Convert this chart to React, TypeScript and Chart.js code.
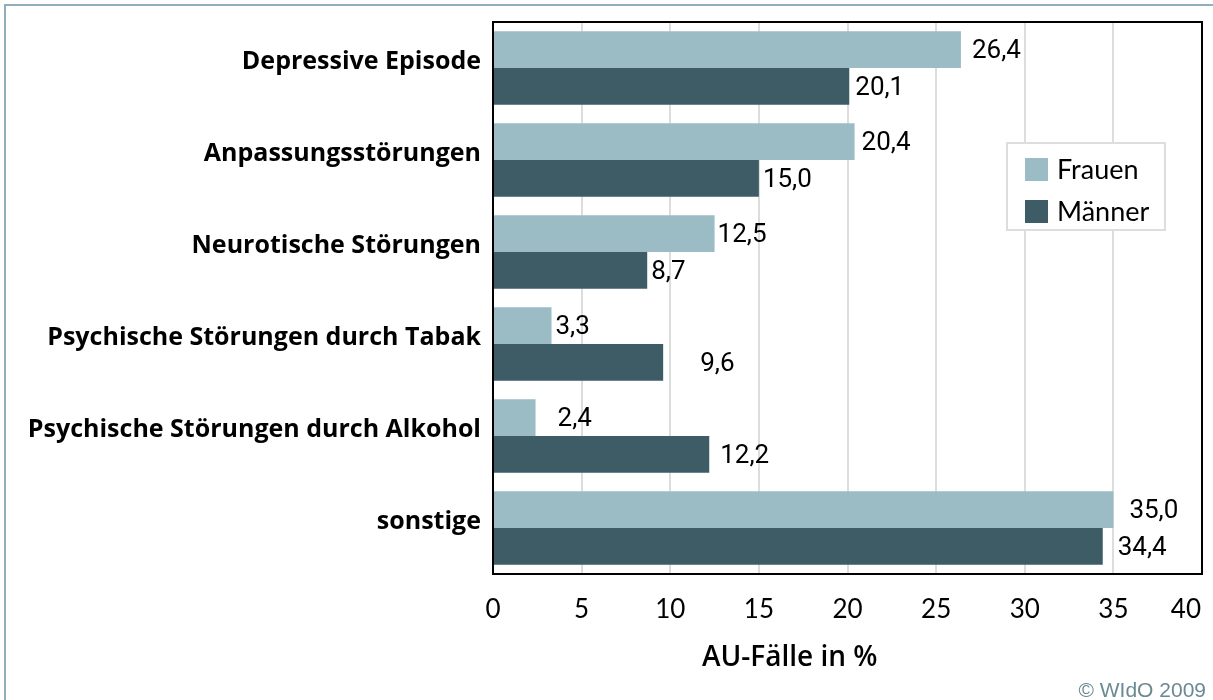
import React, { useEffect, useRef } from 'react';
import { Chart, registerables } from 'chart.js';

Chart.register(...registerables);

const categories = [
  'Depressive Episode',
  'Anpassungsstörungen',
  'Neurotische Störungen',
  'Psychische Störungen durch Tabak',
  'Psychische Störungen durch Alkohol',
  'sonstige',
];
const seriesNames = ['Frauen', 'Männer'];
const frauen = [26.4, 20.4, 12.5, 3.3, 2.4, 35.0];
const maenner = [20.1, 15.0, 8.7, 9.6, 12.2, 34.4];
const xTicks = [0, 5, 10, 15, 20, 25, 30, 35, 40];
const axisTitle = 'AU-Fälle in %';
const credit = '© WIdO 2009';

// label gaps (px) between bar end and value label, as in the original
const frauenLabelGap = [11, 7, 3, 4, 22, 16];
const maennerLabelGap = [6, 4, 4, 37, 11, 15];

const COLORS = ['#9bbcc5', '#3d5c65'];
const CAT_FONT = '"Open Sans", "Noto Sans", sans-serif';
const NARROW = 'Lato, sans-serif';
const VALUE_FONT = 'Roboto, "Noto Sans", sans-serif';

const fmt = (v: number) => v.toFixed(1).replace('.', ',');

const decorPlugin = {
  id: 'decor',
  beforeDraw(chart: any) {
    const { ctx, width, height } = chart;
    ctx.save();
    ctx.fillStyle = '#ffffff';
    ctx.fillRect(0, 0, width, height);
    ctx.strokeStyle = '#8fb0b8';
    ctx.lineWidth = 2;
    ctx.beginPath();
    ctx.moveTo(5, height);
    ctx.lineTo(5, 5);
    ctx.lineTo(width, 5);
    ctx.stroke();
    ctx.restore();
  },
  afterDatasetsDraw(chart: any) {
    const { ctx, chartArea } = chart;
    ctx.save();
    // value labels
    ctx.font = `26px ${VALUE_FONT}`;
    ctx.fillStyle = '#000000';
    ctx.textAlign = 'left';
    ctx.textBaseline = 'middle';
    const gaps = [frauenLabelGap, maennerLabelGap];
    chart.data.datasets.forEach((ds: any, di: number) => {
      const meta = chart.getDatasetMeta(di);
      meta.data.forEach((el: any, i: number) => {
        ctx.fillText(fmt(ds.data[i]), el.x + gaps[di][i], el.y + 2);
      });
    });
    // plot border
    ctx.strokeStyle = '#000000';
    ctx.lineWidth = 2;
    ctx.strokeRect(chartArea.left, chartArea.top, chartArea.right - chartArea.left, chartArea.bottom - chartArea.top);
    ctx.restore();
  },
  afterDraw(chart: any) {
    const { ctx, chartArea, width, height } = chart;
    const xs = chart.scales.x;
    ctx.save();
    // x tick labels
    ctx.font = `26px ${NARROW}`;
    ctx.fillStyle = '#000000';
    ctx.textBaseline = 'middle';
    ctx.textAlign = 'left';
    xTicks.forEach((v) => {
      const s = String(v);
      const w = ctx.measureText(s).width;
      let left = xs.getPixelForValue(v) - w / 2;
      if (left + w > chartArea.right - 1) left = chartArea.right - 1 - w;
      ctx.fillText(s, left, chartArea.bottom + 36);
    });
    // axis title
    ctx.font = `600 28px ${CAT_FONT}`;
    ctx.textAlign = 'left';
    ctx.fillText(axisTitle, 702, chartArea.bottom + 84);
    // legend
    const lx = chartArea.right - 195;
    const ly = chartArea.top + 121;
    ctx.fillStyle = '#ffffff';
    ctx.fillRect(lx, ly, 158, 87);
    ctx.strokeStyle = '#dddddd';
    ctx.lineWidth = 2;
    ctx.strokeRect(lx, ly, 158, 87);
    ctx.font = `27px ${NARROW}`;
    ctx.textAlign = 'left';
    seriesNames.forEach((name, i) => {
      const cy = ly + 26 + i * 42;
      ctx.fillStyle = COLORS[i];
      ctx.fillRect(lx + 18, cy - 11, 23, 23);
      ctx.fillStyle = '#000000';
      ctx.fillText(name, lx + 50, cy + 1);
    });
    // credit
    ctx.font = '21px "Liberation Sans", Arial, sans-serif';
    ctx.fillStyle = '#6a8a93';
    ctx.textAlign = 'right';
    ctx.textBaseline = 'alphabetic';
    ctx.fillText(credit, width - 7, height - 3);
    ctx.restore();
  },
};

export default function App() {
  const ref = useRef<HTMLCanvasElement | null>(null);
  useEffect(() => {
    if (!ref.current) return;
    const chart = new Chart(ref.current, {
      type: 'bar',
      data: {
        labels: categories,
        datasets: [
          { label: seriesNames[0], data: frauen, backgroundColor: COLORS[0], categoryPercentage: 0.8, barPercentage: 1 },
          { label: seriesNames[1], data: maenner, backgroundColor: COLORS[1], categoryPercentage: 0.8, barPercentage: 1 },
        ],
      },
      options: {
        indexAxis: 'y',
        animation: false,
        responsive: false,
        maintainAspectRatio: false,
        layout: { padding: { top: 22, right: 11, left: 0, bottom: 0 } },
        plugins: { legend: { display: false }, tooltip: { enabled: false }, title: { display: false } },
        scales: {
          x: {
            min: 0,
            max: 40,
            ticks: { stepSize: 5, display: true, color: 'rgba(0,0,0,0)', font: { size: 26 } },
            grid: { color: '#dddddd', lineWidth: 2, drawTicks: false },
            border: { display: false },
            afterFit: (s: any) => {
              s.height = 126;
              s.paddingLeft = 0;
              s.paddingRight = 0;
            },
          },
          y: {
            ticks: {
              color: '#000000',
              padding: 12,
              labelOffset: -6,
              font: { family: CAT_FONT, size: 25, weight: 'bold' },
            },
            grid: { display: false, drawTicks: false },
            border: { display: false },
            afterFit: (s: any) => {
              s.width = 493;
              s.paddingTop = 0;
              s.paddingBottom = 0;
            },
          },
        },
      },
      plugins: [decorPlugin],
    });
    return () => chart.destroy();
  }, []);
  return (
    <div style={{ position: 'fixed', left: 0, top: 0, width: 1213, height: 700 }}>
      <canvas ref={ref} width={1213} height={700} style={{ display: 'block', width: 1213, height: 700 }} />
    </div>
  );
}
